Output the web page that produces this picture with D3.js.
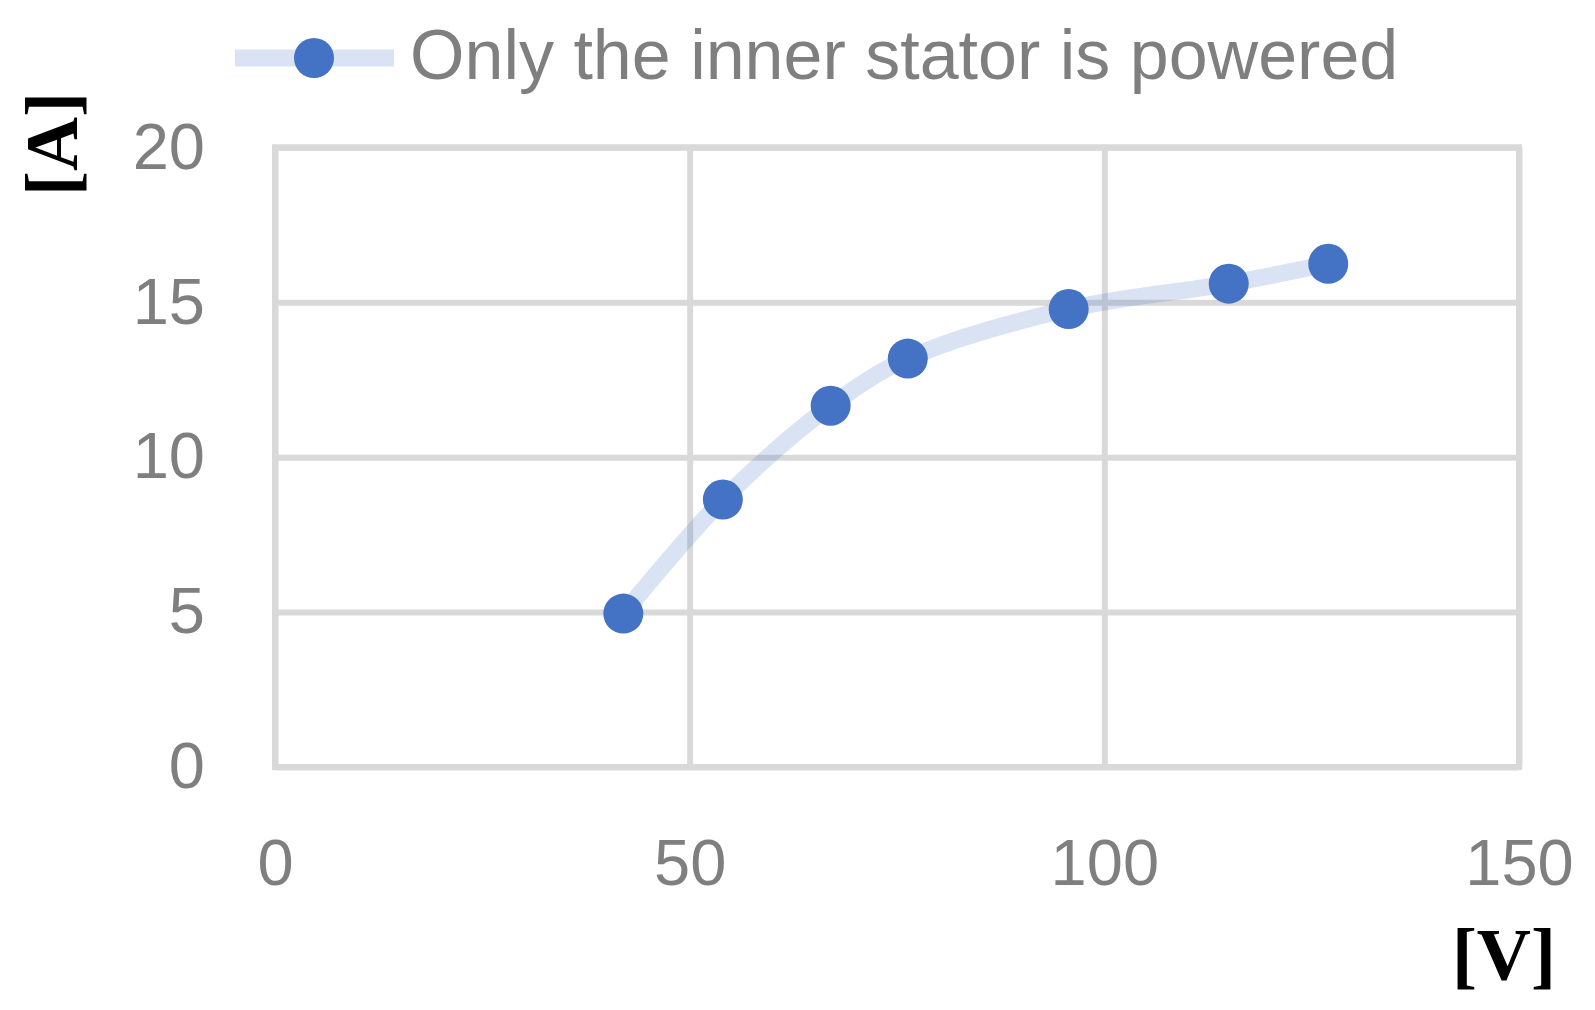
<!DOCTYPE html>
<html>
<head>
<meta charset="utf-8">
<script src="https://cdn.jsdelivr.net/npm/d3@7"></script>
<style>
  html, body { margin: 0; padding: 0; background: #ffffff; }
  svg { display: block; }
</style>
</head>
<body>
<svg id="chart" width="1595" height="1010"></svg>
<script>
// ---- data ----
const seriesName = "Only the inner stator is powered";
const voltage = [42, 54, 67, 76.3, 95.7, 115, 127];
const current = [4.95, 8.63, 11.66, 13.18, 14.78, 15.6, 16.24];
const xTicks = [0, 50, 100, 150];
const yTicks = [0, 5, 10, 15, 20];
const xTitle = "[V]";
const yTitle = "[A]";

// ---- layout ----
const svg = d3.select("#chart");
const plotLeft = 275, plotRight = 1519, plotTop = 147.3, plotBottom = 767;
const gridColor = "#d9d9d9";
const textColor = "#7f7f7f";
const blue = "#4472c4";

const x = d3.scaleLinear().domain([0, 150]).range([plotLeft, plotRight]);
const y = d3.scaleLinear().domain([0, 20]).range([plotBottom, plotTop]);

// y axis with horizontal gridlines
const yAxis = d3.axisLeft(y).tickValues(yTicks).tickSize(-(plotRight - plotLeft)).tickPadding(70);
const gy = svg.append("g").attr("transform", `translate(${plotLeft},0)`).call(yAxis);
gy.select(".domain").remove();
gy.selectAll("line").attr("stroke", gridColor).attr("stroke-width", 6);
gy.selectAll("text")
  .attr("fill", textColor)
  .attr("font-family", "Liberation Sans, Arial, sans-serif")
  .attr("font-size", 65);

// x axis with vertical gridlines
const xAxis = d3.axisBottom(x).tickValues(xTicks).tickSize(-(plotBottom - plotTop)).tickPadding(72);
const gx = svg.append("g").attr("transform", `translate(0,${plotBottom})`).call(xAxis);
gx.select(".domain").remove();
gx.selectAll("line").attr("stroke", gridColor).attr("stroke-width", 6);
gx.selectAll("text")
  .attr("fill", textColor)
  .attr("font-family", "Liberation Sans, Arial, sans-serif")
  .attr("font-size", 65);

// plot border
svg.append("rect")
  .attr("x", plotLeft).attr("y", plotTop)
  .attr("width", plotRight - plotLeft).attr("height", plotBottom - plotTop)
  .attr("fill", "none").attr("stroke", gridColor).attr("stroke-width", 6);

// series line
const pts = voltage.map((v, i) => [v, current[i]]);
const line = d3.line().x(d => x(d[0])).y(d => y(d[1])).curve(d3.curveCatmullRom.alpha(0.5));
svg.append("path")
  .datum(pts)
  .attr("d", line)
  .attr("fill", "none")
  .attr("stroke", blue)
  .attr("stroke-opacity", 0.2)
  .attr("stroke-width", 17)
  .attr("stroke-linejoin", "round");

// markers
svg.append("g").selectAll("circle")
  .data(pts)
  .join("circle")
  .attr("cx", d => x(d[0]))
  .attr("cy", d => y(d[1]))
  .attr("r", 20)
  .attr("fill", blue);

// legend
const lg = svg.append("g");
lg.append("line")
  .attr("x1", 235).attr("x2", 394).attr("y1", 58).attr("y2", 58)
  .attr("stroke", blue).attr("stroke-opacity", 0.2).attr("stroke-width", 17);
lg.append("circle").attr("cx", 314).attr("cy", 58).attr("r", 20).attr("fill", blue);
lg.append("text")
  .attr("x", 410).attr("y", 79)
  .attr("fill", textColor)
  .attr("font-family", "Liberation Sans, Arial, sans-serif")
  .attr("font-size", 70)
  .text(seriesName);

// axis titles
svg.append("text")
  .attr("transform", "translate(77,144) rotate(-90)")
  .attr("text-anchor", "middle")
  .attr("font-family", "Liberation Serif, Times New Roman, serif")
  .attr("font-weight", "bold")
  .attr("font-size", 75)
  .attr("fill", "#000")
  .text(yTitle);

svg.append("text")
  .attr("x", 1556).attr("y", 980)
  .attr("text-anchor", "end")
  .attr("font-family", "Liberation Serif, Times New Roman, serif")
  .attr("font-weight", "bold")
  .attr("font-size", 75)
  .attr("fill", "#000")
  .text(xTitle);
</script>
</body>
</html>
